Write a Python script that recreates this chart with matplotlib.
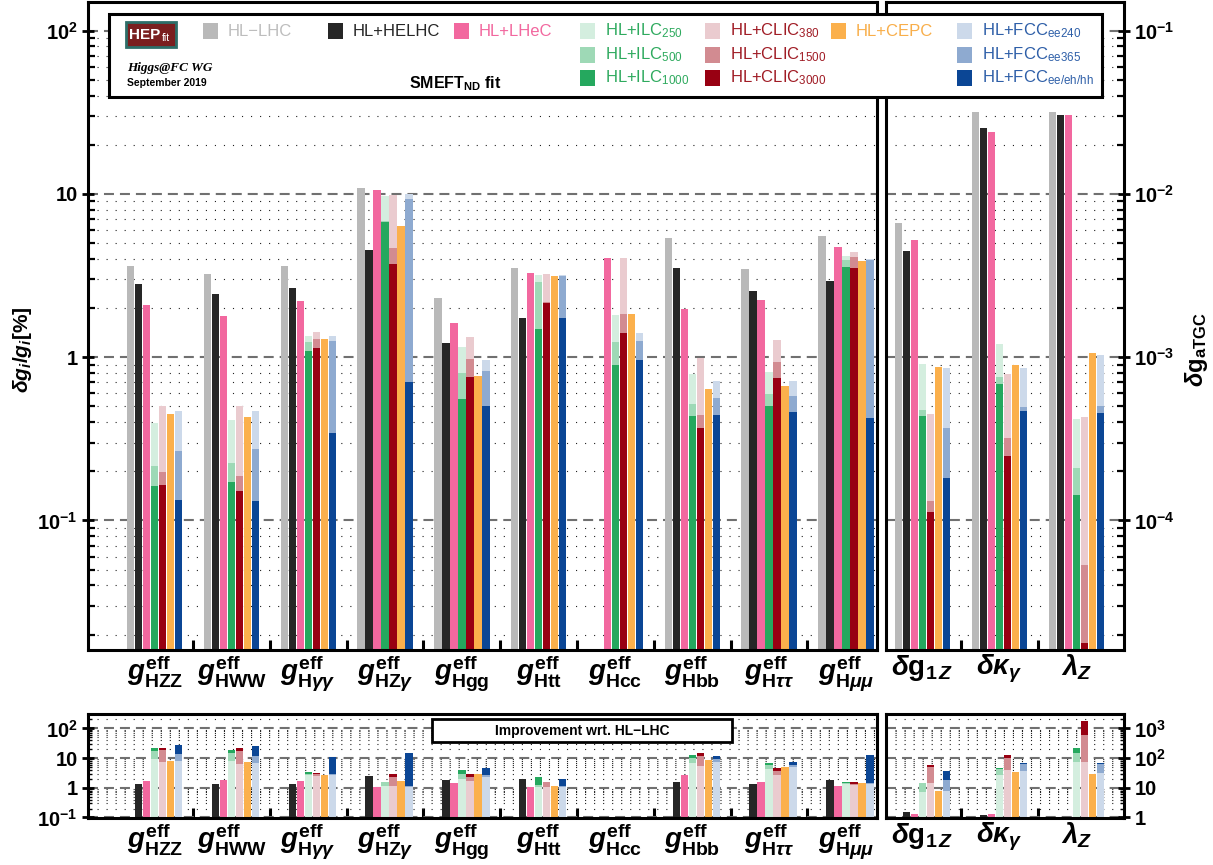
import numpy as np
import matplotlib
matplotlib.use('Agg')
import matplotlib.pyplot as plt
from matplotlib.patches import Rectangle
from matplotlib.ticker import LogLocator, NullFormatter

plt.rcParams['font.family'] = ['Liberation Sans', 'DejaVu Sans']
plt.rcParams['mathtext.fontset'] = 'custom'
plt.rcParams['mathtext.rm'] = 'Liberation Sans:bold'
plt.rcParams['mathtext.it'] = 'Liberation Sans:bold:italic'
plt.rcParams['mathtext.bf'] = 'Liberation Sans:bold'
plt.rcParams['lines.scale_dashes'] = False

nan = np.nan

# ---------------- data ----------------
higgs_labels = [r'$g^{\rm eff}_{\rm HZZ}$', r'$g^{\rm eff}_{\rm HWW}$', r'$g^{\rm eff}_{{\rm H}\gamma\gamma}$',
                r'$g^{\rm eff}_{{\rm HZ}\gamma}$', r'$g^{\rm eff}_{\rm Hgg}$', r'$g^{\rm eff}_{\rm Htt}$',
                r'$g^{\rm eff}_{\rm Hcc}$', r'$g^{\rm eff}_{\rm Hbb}$', r'$g^{\rm eff}_{{\rm H}\tau\tau}$',
                r'$g^{\rm eff}_{{\rm H}\mu\mu}$']
atgc_labels = [r'$\delta{\rm g}_{{\rm 1}\,Z}$', r'$\delta\kappa_{\gamma}$', r'$\lambda_{Z}$']

# Higgs couplings, delta g / g in %
hl_lhc   = [3.63, 3.23, 3.63, 10.9, 2.29, 3.50, nan, 5.37, 3.45, 5.52]
helhc    = [2.80, 2.44, 2.67, 4.53, 1.22, 1.73, nan, 3.50, 2.55, 2.93]
lhec     = [2.10, 1.79, 2.21, 10.5, 1.63, 3.26, 4.03, 1.96, 2.24, 4.71]
ilc250   = [0.397, 0.414, 1.35, 9.7, 1.15, 3.17, 1.81, 0.787, 0.817, 4.17]
ilc500   = [0.217, 0.226, 1.24, 6.86, 0.80, 2.88, 1.24, 0.52, 0.593, 3.94]
ilc1000  = [0.162, 0.173, 1.09, 6.7, 0.555, 1.48, 0.89, 0.435, 0.50, 3.55]
clic380  = [0.50, 0.50, 1.42, 9.8, 1.33, 3.21, 4.03, 0.995, 1.28, 4.39]
clic1500 = [0.198, 0.188, 1.29, 4.64, 0.97, 2.19, 1.85, 0.445, 0.94, 4.11]
clic3000 = [0.166, 0.152, 1.14, 3.72, 0.757, 2.16, 1.40, 0.37, 0.746, 3.50]
cepc     = [0.45, 0.43, 1.30, 6.34, 0.765, 3.14, 1.85, 0.634, 0.664, 3.88]
fcc240   = [0.47, 0.466, 1.35, 9.96, 0.96, 3.17, 1.40, 0.71, 0.71, 3.99]
fcc365   = [0.265, 0.275, 1.25, 9.3, 0.82, 3.14, 1.26, 0.56, 0.577, 3.91]
fccall   = [0.134, 0.131, 0.343, 0.706, 0.50, 1.73, 0.966, 0.44, 0.46, 0.427]

# anomalous triple gauge couplings (absolute)
atgc_hl_lhc   = [6.6e-3, 3.15e-2, 3.19e-2]
atgc_helhc    = [4.47e-3, 2.53e-2, 3.02e-2]
atgc_lhec     = [5.21e-3, 2.39e-2, 3.02e-2]
atgc_ilc250   = [9.1e-4, 1.21e-3, 4.21e-4]
atgc_ilc500   = [4.73e-4, 7.6e-4, 2.09e-4]
atgc_ilc1000  = [4.38e-4, 6.84e-4, 1.44e-4]
atgc_clic380  = [4.48e-4, 7.9e-4, 4.3e-4]
atgc_clic1500 = [1.32e-4, 3.22e-4, 5.3e-5]
atgc_clic3000 = [1.13e-4, 2.48e-4, 1.78e-5]
atgc_cepc     = [8.75e-4, 9.0e-4, 1.06e-3]
atgc_fcc240   = [8.57e-4, 8.6e-4, 1.03e-3]
atgc_fcc365   = [3.69e-4, 4.92e-4, 5.05e-4]
atgc_fccall   = [1.83e-4, 4.71e-4, 4.52e-4]

# ---------------- styling ----------------
c_grey, c_black, c_pink = '#b9b9b9', '#262626', '#f2689f'
c_ilc = ['#d4eedf', '#9ed9b6', '#25a85e']
c_clic = ['#eacbcf', '#d28b91', '#980012']
c_cepc = '#fbb04c'
c_fcc = ['#ccd9ea', '#8eaad0', '#0b4695']

W, H = 1213, 865
fig = plt.figure(figsize=(W / 100, H / 100), dpi=100)


def ax_px(x0, y0, x1, y1):
    return fig.add_axes([x0 / W, 1 - y1 / H, (x1 - x0) / W, (y1 - y0) / H])


ax_main = ax_px(88, 2, 877, 650)
ax_atgc = ax_px(886, 2, 1124, 650)
ax_rmain = ax_px(88, 714, 877, 818)
ax_ratgc = ax_px(886, 714, 1124, 818)

pitch, bw = 0.104, 0.097


def columns(d):
    return [([d[0]], [c_grey]), ([d[1]], [c_black]), ([d[2]], [c_pink]),
            (d[3:6], c_ilc), (d[6:9], c_clic), ([d[9]], [c_cepc]), (d[10:13], c_fcc)]


higgs_data = [hl_lhc, helhc, lhec, ilc250, ilc500, ilc1000, clic380, clic1500, clic3000,
              cepc, fcc240, fcc365, fccall]
atgc_data = [atgc_hl_lhc, atgc_helhc, atgc_lhec, atgc_ilc250, atgc_ilc500, atgc_ilc1000,
             atgc_clic380, atgc_clic1500, atgc_clic3000, atgc_cepc, atgc_fcc240, atgc_fcc365, atgc_fccall]


def draw_bars(ax, data, base, ratio=False):
    data = [np.array(d, dtype=float) for d in data]
    ref = data[0]
    ngroups = len(ref)
    xc = np.arange(ngroups)
    for j, (series, cols) in enumerate(columns(data)):
        if ratio and j == 0:
            continue
        pairs = list(zip(series, cols))
        if ratio:
            pairs = [(ref / s, c) for s, c in pairs][::-1]
        for vals, col in pairs:
            m = np.isfinite(vals)
            x = xc[m] + (j - 3) * pitch
            ax.bar(x, vals[m] - base, bottom=base, width=bw, color=col, linewidth=0, zorder=2)


def fmt_pow(e):
    if e == 0:
        return '1'
    if e == 1:
        return '10'
    s = ('\u2212%d' % (-e)) if e < 0 else '%d' % e
    return '10$^{\\mathregular{%s}}$' % s


def style_axis(ax, ylim, exps, side, labels, xlim, seps, small=False):
    ax.set_yscale('log')
    ax.set_ylim(*ylim)
    ax.set_xlim(*xlim)
    ax.set_axisbelow(True)
    ax.yaxis.set_major_locator(matplotlib.ticker.FixedLocator([10.0 ** e for e in exps]))
    ax.set_yticklabels([fmt_pow(e) for e in exps], fontsize=14.5, fontweight='bold')
    ax.yaxis.set_minor_locator(LogLocator(base=10, subs=np.arange(2, 10), numticks=20))
    ax.yaxis.set_minor_formatter(NullFormatter())
    ax.grid(which='major', axis='y', color='#707070', linestyle=(0, (7.2, 4.3)), linewidth=1.5, zorder=0)
    ax.grid(which='minor', axis='y', color='#222222', linestyle=(0, (0.8, 5.7)), linewidth=0.8, zorder=0)
    if side == 'right':
        ax.yaxis.tick_right()
        ax.yaxis.set_label_position('right')
    ax.tick_params(axis='y', which='major', direction='inout', length=9, width=2, pad=3,
                   left=(side == 'left'), right=(side == 'right'))
    ax.tick_params(axis='y', which='minor', direction='in', length=(3 if small else 5),
                   width=(1.0 if small else 1.6),
                   left=(side == 'left'), right=(side == 'right'))
    ax.set_xticks(np.arange(len(labels)))
    ax.set_xticklabels(labels, fontsize=20)
    ax.set_xticks(seps, minor=True)
    ax.tick_params(axis='x', which='major', length=0, pad=2)
    ax.tick_params(axis='x', which='minor', direction='in', length=7, width=2.2, top=False)
    for sp in ax.spines.values():
        sp.set_linewidth(2.2)


xlim_h = (-0.868, 9.405)
xlim_a = (-0.474, 2.617)
seps_h = np.arange(9) + 0.5
seps_a = np.arange(2) + 0.5

main_ylim = (0.0161, 149.6)
draw_bars(ax_main, higgs_data, main_ylim[0])
style_axis(ax_main, main_ylim, [-1, 0, 1, 2], 'left', higgs_labels, xlim_h, seps_h)

atgc_ylim = (main_ylim[0] / 1000, main_ylim[1] / 1000)
draw_bars(ax_atgc, atgc_data, atgc_ylim[0])
style_axis(ax_atgc, atgc_ylim, [-4, -3, -2, -1], 'right', atgc_labels, xlim_a, seps_a)

rat_ylim = (0.096, 306)
draw_bars(ax_rmain, higgs_data, rat_ylim[0], ratio=True)
style_axis(ax_rmain, rat_ylim, [-1, 0, 1, 2], 'left', higgs_labels, xlim_h, seps_h, small=True)

rat_ylim_a = (0.96, 3060)
draw_bars(ax_ratgc, atgc_data, rat_ylim_a[0], ratio=True)
style_axis(ax_ratgc, rat_ylim_a, [0, 1, 2, 3], 'right', atgc_labels, xlim_a, seps_a, small=True)

# axis titles
fig.text(22 / W, 1 - 350 / H, r'$\delta g_i/g_i$[%]', rotation=90, fontsize=15, fontweight='bold',
         ha='center', va='center')
fig.text(1196 / W, 1 - 350 / H, r'$\delta{\rm g}_{\rm aTGC}$', rotation=90, fontsize=17,
         fontweight='bold', ha='center', va='center')


# ---------------- legend box ----------------
def fx(x):
    return x / W


def fy(y):
    return 1 - y / H


fig.add_artist(Rectangle((fx(109), fy(96.5)), fx(1102) - fx(109), fy(13.5) - fy(96.5),
                         transform=fig.transFigure, facecolor='white', edgecolor='black',
                         linewidth=2.2, zorder=10))
# HEPfit logo
fig.add_artist(Rectangle((fx(126), fy(47)), fx(176) - fx(126), fy(22) - fy(47),
                         transform=fig.transFigure, facecolor='#7a1f1f', edgecolor='#2d6e68',
                         linewidth=2, zorder=11))
fig.text(fx(129), fy(35), 'HEP', color='white', fontsize=11, fontweight='bold', ha='left',
         va='center', zorder=12)
fig.text(fx(162), fy(38), 'fit', color='white', fontsize=7.5, ha='left', va='center', zorder=12)
fig.text(fx(127), fy(68), 'Higgs@FC WG', family='Liberation Serif', style='italic',
         fontweight='bold', fontsize=9.5, ha='left', va='center', zorder=12)
fig.text(fx(127), fy(83), 'September 2019', fontweight='bold', fontsize=7.5, ha='left',
         va='center', zorder=12)
fig.text(fx(455), fy(84), 'SMEFT$_{\\mathregular{ND}}$ fit', fontweight='bold', fontsize=11.5,
         ha='center', va='center', zorder=12)

legend_entries = [
    (203, 31, c_grey, 'HL\u2212LHC', '#bdbdbd'),
    (328, 31, c_black, 'HL+HELHC', '#262626'),
    (453.5, 31, c_pink, 'HL+LHeC', '#f2689f'),
    (580, 31, c_ilc[0], 'HL+ILC$_{\\mathregular{250}}$', '#2eaa5e'),
    (580, 54.5, c_ilc[1], 'HL+ILC$_{\\mathregular{500}}$', '#2eaa5e'),
    (580, 78, c_ilc[2], 'HL+ILC$_{\\mathregular{1000}}$', '#2eaa5e'),
    (705, 31, c_clic[0], 'HL+CLIC$_{\\mathregular{380}}$', '#a01c25'),
    (705, 54.5, c_clic[1], 'HL+CLIC$_{\\mathregular{1500}}$', '#a01c25'),
    (705, 78, c_clic[2], 'HL+CLIC$_{\\mathregular{3000}}$', '#a01c25'),
    (830.5, 31, c_cepc, 'HL+CEPC', '#f8ae4a'),
    (956.5, 31, c_fcc[0], 'HL+FCC$_{\\mathregular{ee240}}$', '#2e5fa8'),
    (956.5, 54.5, c_fcc[1], 'HL+FCC$_{\\mathregular{ee365}}$', '#2e5fa8'),
    (956.5, 78, c_fcc[2], 'HL+FCC$_{\\mathregular{ee/eh/hh}}$', '#2e5fa8'),
]
for x, y, fc, txt, tc in legend_entries:
    fig.add_artist(Rectangle((fx(x), fy(y + 8)), fx(x + 15) - fx(x), fy(y - 8) - fy(y + 8),
                             transform=fig.transFigure, facecolor=fc, edgecolor='none', zorder=11))
    fig.text(fx(x + 25), fy(y), txt, color=tc, fontsize=12, ha='left', va='center', zorder=12)

# improvement label
fig.add_artist(Rectangle((fx(432), fy(742)), fx(732) - fx(432), fy(719) - fy(742),
                         transform=fig.transFigure, facecolor='white', edgecolor='black',
                         linewidth=2, zorder=10))
fig.text(fx(582), fy(730.5), 'Improvement wrt. HL\u2212LHC', fontweight='bold', fontsize=10,
         ha='center', va='center', zorder=12)

fig.savefig('out.png', dpi=100)
